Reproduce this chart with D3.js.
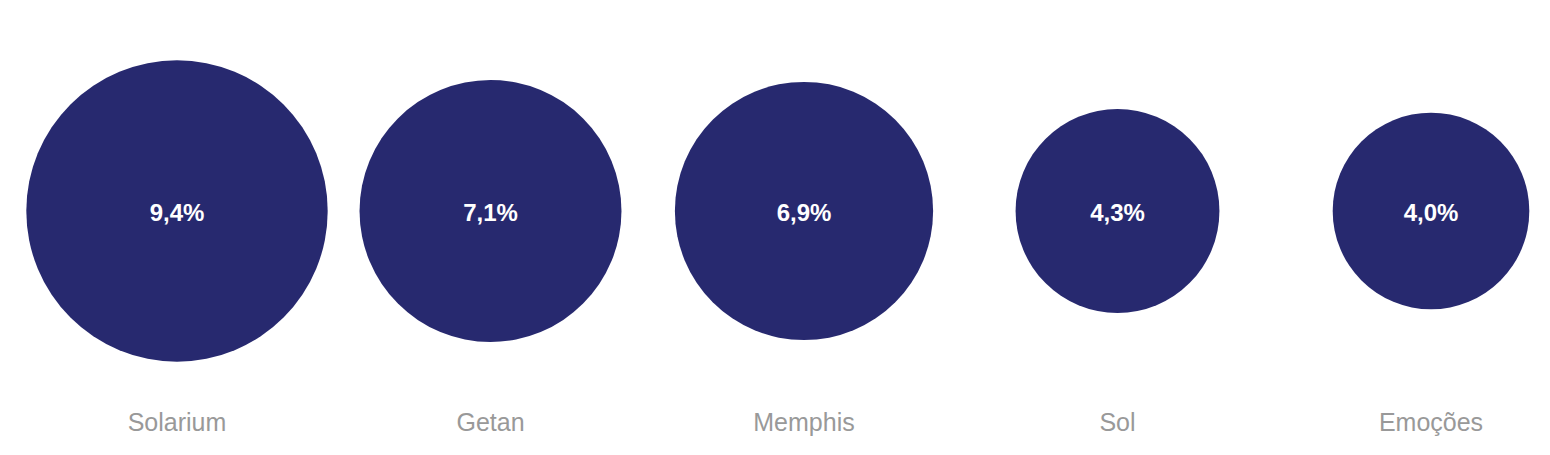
<!DOCTYPE html>
<html><head><meta charset="utf-8">
<script src="https://cdn.jsdelivr.net/npm/d3@7"></script>
<style>body{margin:0;background:#fff}svg{display:block}</style>
</head><body>
<script>
const categories = ["Solarium","Getan","Memphis","Sol","Emoções"];
const values = [9.4, 7.1, 6.9, 4.3, 4.0];
const valueLabels = ["9,4%","7,1%","6,9%","4,3%","4,0%"];

const W = 1550, H = 455;
const svg = d3.select("body").append("svg").attr("width", W).attr("height", H);
const x = d3.scalePoint().domain(categories).range([177, 1431]);
const r = d3.scaleSqrt().domain([0, 9.4]).range([0, 150.7]);
const cy = 211;
const data = categories.map((c,i)=>({c, v: values[i], l: valueLabels[i]}));

svg.selectAll("circle").data(data).join("circle")
  .attr("cx", d=>x(d.c)).attr("cy", cy).attr("r", d=>r(d.v))
  .attr("fill", "#27296f");

svg.selectAll("text.val").data(data).join("text").attr("class","val")
  .attr("x", d=>x(d.c)).attr("y", cy + 10)
  .attr("text-anchor","middle")
  .attr("font-family","Liberation Sans, Arial, sans-serif")
  .attr("font-weight","bold").attr("font-size", 24)
  .attr("fill","#fff").text(d=>d.l);

svg.selectAll("text.cat").data(data).join("text").attr("class","cat")
  .attr("x", d=>x(d.c)).attr("y", 431)
  .attr("text-anchor","middle")
  .attr("font-family","Liberation Sans, Arial, sans-serif")
  .attr("font-size", 25)
  .attr("fill","#999999").text(d=>d.c);
</script>
</body></html>
